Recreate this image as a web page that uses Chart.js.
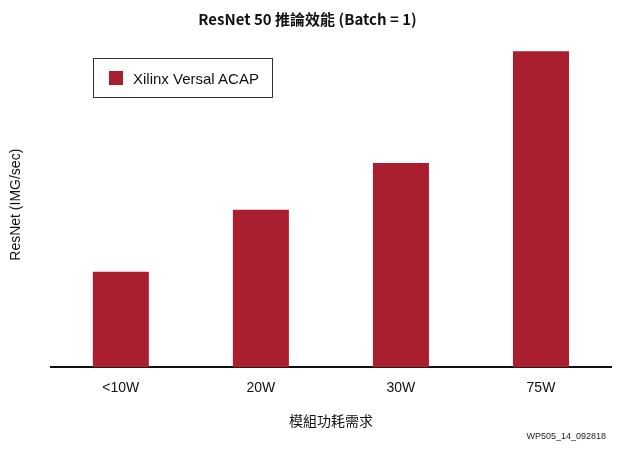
<!DOCTYPE html>
<html><head><meta charset="utf-8">
<script src="https://cdn.jsdelivr.net/npm/chart.js@4/dist/chart.umd.min.js"></script>
<style>
html,body{margin:0;padding:0;background:#fff;}
#wrap{position:relative;width:620px;height:451px;}
#legend{position:absolute;left:93px;top:58px;width:180px;height:40px;border:1px solid #333;box-sizing:border-box;font-family:"Liberation Sans",Arial,sans-serif;font-size:15px;color:#111;display:flex;align-items:center;}
#legend span.sw{display:inline-block;width:14px;height:14px;background:#A91F2F;margin-left:15px;margin-right:10px;}
#foot{position:absolute;right:14px;top:431px;font-family:"Liberation Sans",Arial,sans-serif;font-size:9px;color:#222;}
</style></head><body>
<div id="wrap"><canvas id="c" width="620" height="451"></canvas>
<div id="legend"><span class="sw"></span><span id="lt"></span></div>
<div id="foot">WP505_14_092818</div></div>
<script>
const categories = ["<10W","20W","30W","75W"];
const seriesName = "Xilinx Versal ACAP";
const values = [94,155,201,311];
document.getElementById('lt').textContent = seriesName;
new Chart(document.getElementById('c'),{
 type:'bar',
 data:{labels:categories,datasets:[{label:seriesName,data:values,backgroundColor:'#A91F2F',categoryPercentage:1,barPercentage:0.4}]},
 options:{responsive:false,animation:false,
  layout:{padding:{left:4,right:9,top:0,bottom:18}},
  plugins:{legend:{display:false},tooltip:{enabled:false},
   title:{display:true,text:'ResNet 50 推論效能 (Batch = 1)',font:{family:'"Noto Sans CJK TC", sans-serif',size:15,weight:'bold'},color:'#111',padding:{top:10,bottom:14}}},
  scales:{
   x:{grid:{display:false,drawTicks:false},border:{display:true,color:'#111',width:2},
      ticks:{color:'#111',font:{family:'"Liberation Sans",Arial',size:14},padding:12},
      title:{display:true,text:'模組功耗需求',color:'#111',font:{family:'"Noto Sans CJK TC"',size:14},padding:{top:4}}},
   y:{min:0,max:320,grid:{display:false},border:{display:false},ticks:{display:false},
      title:{display:true,text:'ResNet (IMG/sec)',color:'#111',font:{family:'"Liberation Sans",Arial',size:14},padding:{bottom:18}}}
  }}
});
</script></body></html>
